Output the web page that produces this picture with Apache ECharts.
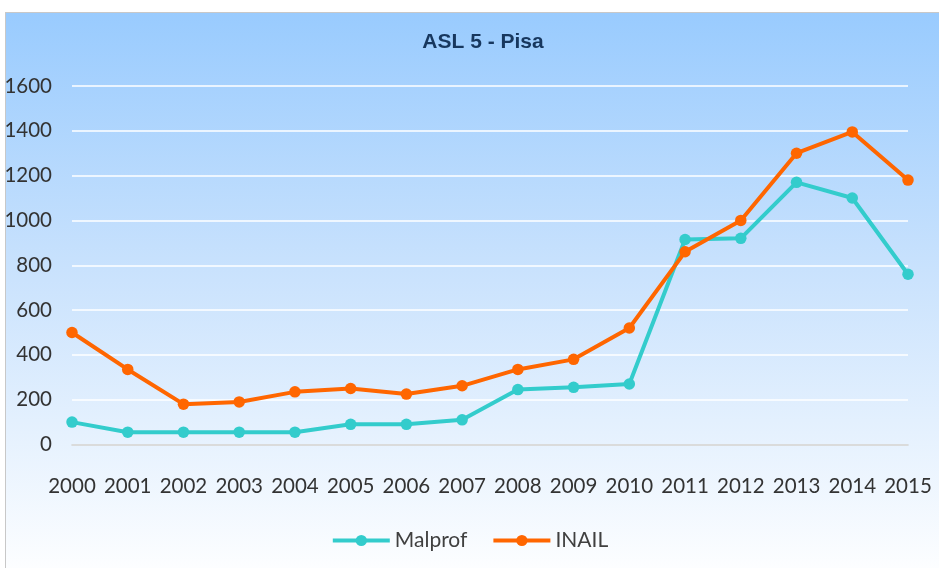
<!DOCTYPE html>
<html>
<head>
    <meta charset="utf-8">
    <script src="https://cdn.jsdelivr.net/npm/echarts@6/dist/echarts.min.js"></script>
</head>
<body style="margin: 0; background: #ffffff">
<div id="frame" style="position: absolute; left: 5px; top: 12px; width: 950px; height: 570px;
     border: 1px solid #c8c8c8; background: linear-gradient(to bottom, #99cbfe 0%, #c9e2fd 45%, #ffffff 100%);"></div>
<div id="container" style="position: absolute; left: 0; top: 0; width: 939px; height: 568px"></div>
<script type="text/javascript">
    // anni
    var years = ['2000', '2001', '2002', '2003', '2004', '2005', '2006', '2007',
        '2008', '2009', '2010', '2011', '2012', '2013', '2014', '2015'];
    // Malprof
    var malprof = [100, 55, 55, 55, 55, 90, 90, 110, 245, 255, 270, 915, 920, 1170, 1100, 760];
    // INAIL
    var inail = [500, 335, 180, 190, 235, 250, 225, 262, 335, 380, 520, 860, 1000, 1300, 1395, 1180];

    var myChart = echarts.init(document.getElementById('container'));
    var font = 'Lato, "Open Sans", sans-serif';

    var option = {
        backgroundColor: 'transparent',
        title: {
            text: 'ASL 5 - Pisa',
            left: 478,
            top: 27,
            textAlign: 'center',
            textStyle: {
                fontFamily: '"Liberation Sans", Arial, sans-serif',
                fontSize: 21,
                fontWeight: 'bold',
                color: '#17375e'
            }
        },
        legend: {
            data: ['Malprof', 'INAIL'],
            left: 'center',
            top: 525,
            itemWidth: 57,
            itemHeight: 14,
            itemGap: 24,
            lineStyle: {width: 4},
            textStyle: {
                fontFamily: font,
                fontSize: 21,
                color: '#404040'
            }
        },
        grid: {
            left: 72,
            right: 31,
            top: 86,
            bottom: 123.5,
            containLabel: false
        },
        xAxis: {
            type: 'category',
            data: years,
            boundaryGap: false,
            axisLine: {lineStyle: {color: '#d0d0d0', width: 1.5}},
            axisTick: {show: false},
            axisLabel: {
                margin: 31,
                interval: 0,
                fontFamily: font,
                fontSize: 20.5,
                color: '#333333'
            },
            splitLine: {show: false}
        },
        yAxis: {
            type: 'value',
            min: 0,
            max: 1600,
            interval: 200,
            axisLine: {show: false},
            axisTick: {show: false},
            axisLabel: {
                margin: 20,
                fontFamily: font,
                fontSize: 20.5,
                color: '#333333',
                formatter: function (v) { return String(v); }
            },
            splitLine: {lineStyle: {color: '#ffffff', width: 1.5}}
        },
        series: [{
            name: 'Malprof',
            type: 'line',
            data: malprof,
            symbol: 'circle',
            symbolSize: 11.5,
            color: '#33cccc',
            lineStyle: {width: 4},
            animation: false
        }, {
            name: 'INAIL',
            type: 'line',
            data: inail,
            symbol: 'circle',
            symbolSize: 11.5,
            color: '#ff6600',
            lineStyle: {width: 4},
            animation: false
        }]
    };
    myChart.setOption(option);
</script>
</body>
</html>
